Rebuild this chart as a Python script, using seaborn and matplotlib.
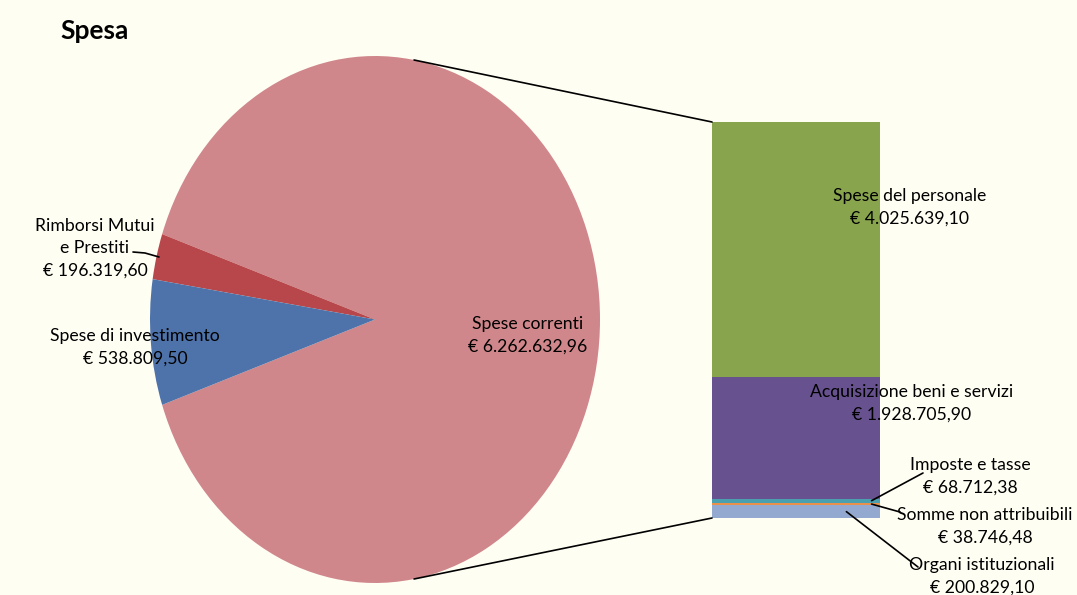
import numpy as np
import pandas as pd
import matplotlib
matplotlib.use("Agg")
import matplotlib.pyplot as plt
from matplotlib.patches import ConnectionPatch
import seaborn as sns

# ---------------- data ----------------
pie_labels = ["Spese correnti", "Rimborsi Mutui\ne Prestiti", "Spese di investimento"]
pie_values = [6262632.96, 196319.60, 538809.50]
pie_texts = ["€ 6.262.632,96", "€ 196.319,60", "€ 538.809,50"]

bar_labels = ["Organi istituzionali", "Somme non attribuibili", "Imposte e tasse",
              "Acquisizione beni e servizi", "Spese del personale"]
bar_values = [200829.10, 38746.48, 68712.38, 1928705.90, 4025639.10]
bar_texts = ["€ 200.829,10", "€ 38.746,48", "€ 68.712,38", "€ 1.928.705,90", "€ 4.025.639,10"]

title = "Spesa"

pie_colors = ["#D0878B", "#B8474B", "#4E73AA"]
bar_colors = ["#93A9CF", "#E9914A", "#4BA0B0", "#67528F", "#88A54E"]
bg = "#FFFEF3"

# ---------------- figure ----------------
sns.set_style("white")
plt.rcParams["font.family"] = ["Lato", "DejaVu Sans"]
plt.rcParams["text.color"] = "black"

W, H = 1077, 595
fig = plt.figure(figsize=(W / 100, H / 100), dpi=100)
fig.patch.set_facecolor(bg)

def fx(px):
    return px / W

def fy(py):
    return 1 - py / H

# pie axes (elliptical pie)
ax_pie = fig.add_axes([fx(150), fy(583), fx(450), 527 / H])
total_pie = sum(pie_values)
start = -360 * pie_values[0] / total_pie / 2
ax_pie.pie(pie_values, colors=pie_colors, startangle=start, counterclock=True,
           wedgeprops=dict(linewidth=0), radius=1)
ax_pie.set_aspect("auto")
ax_pie.set_xlim(-1, 1)
ax_pie.set_ylim(-1, 1)
ax_pie.axis("off")

# stacked bar axes
ax_bar = fig.add_axes([fx(712), fy(518), fx(880 - 712), (518 - 122) / H])
cum = np.cumsum(bar_values)
df = pd.DataFrame({"cat": ["x"] * len(bar_values), "cum": cum, "lab": bar_labels})
for i in range(len(bar_values) - 1, -1, -1):
    sns.barplot(data=df.iloc[[i]], x="cat", y="cum", color=bar_colors[i],
                saturation=1, width=1, ax=ax_bar, linewidth=0)
ax_bar.set_xlim(-0.5, 0.5)
ax_bar.set_ylim(0, cum[-1])
ax_bar.axis("off")

# connector lines pie -> bar
ang = np.deg2rad(80)
for sgn, yb in [(1, cum[-1]), (-1, 0)]:
    con = ConnectionPatch(xyA=(np.cos(ang), sgn * np.sin(ang)), coordsA=ax_pie.transData,
                          xyB=(-0.5, yb), coordsB=ax_bar.transData,
                          color="black", lw=1.2)
    fig.add_artist(con)

# title
fig.text(fx(60), fy(31), title, fontsize=19, fontweight="bold", ha="left", va="center",
         color="black")

fs = 12.7
ls = 1.5
# pie labels
fig.text(fx(528), fy(335), pie_labels[0] + "\n" + pie_texts[0], ha="center", va="center",
         fontsize=fs, linespacing=ls)
fig.text(fx(95), fy(248), pie_labels[1] + "\n" + pie_texts[1], ha="center", va="center",
         fontsize=fs, linespacing=ls)
fig.text(fx(135), fy(347), pie_labels[2] + "\n" + pie_texts[2], ha="center", va="center",
         fontsize=fs, linespacing=ls)
fig.add_artist(plt.Line2D([fx(133), fx(145), fx(159)], [fy(252), fy(253), fy(257)],
                          color="black", lw=1.2, transform=fig.transFigure))

# bar labels
bar_label_pos = {4: (910, 207), 3: (912, 403), 2: (970, 476), 1: (985, 526), 0: (982, 576)}
for i, (px, py) in bar_label_pos.items():
    fig.text(fx(px), fy(py), bar_labels[i] + "\n" + bar_texts[i], ha="center", va="center",
             fontsize=fs, linespacing=ls)

# leader lines for small segments
mid = cum - np.array(bar_values) / 2
leaders = [(2, 0.45, (923, 473)), (1, 0.45, (900, 512)), (0, 0.3, (918, 567))]
for i, xb, (px, py) in leaders:
    con = ConnectionPatch(xyA=(xb, mid[i]), coordsA=ax_bar.transData,
                          xyB=(fx(px), fy(py)), coordsB=fig.transFigure,
                          color="black", lw=1.2)
    fig.add_artist(con)

fig.savefig("out.png", dpi=100, facecolor=bg)
